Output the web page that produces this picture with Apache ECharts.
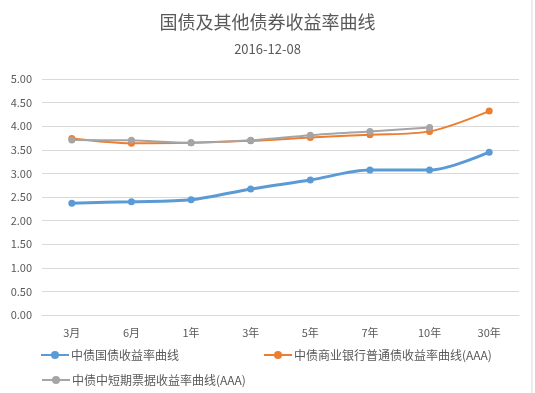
<!DOCTYPE html>
<html><head><meta charset="utf-8">
<script src="https://cdn.jsdelivr.net/npm/echarts@6/dist/echarts.min.js"></script>
<style>html,body{margin:0;padding:0;background:#fff}#c{width:535px;height:393px}</style>
</head><body><div id="c"></div>
<script>
const categories = ['3月','6月','1年','3年','5年','7年','10年','30年'];
const govValues = [2.37, 2.40, 2.44, 2.67, 2.86, 3.07, 3.07, 3.45];
const bankValues = [3.74, 3.64, 3.65, 3.69, 3.76, 3.82, 3.89, 4.32];
const noteValues = [3.71, 3.70, 3.65, 3.70, 3.81, 3.89, 3.97, null];
const seriesNames = ['中债国债收益率曲线','中债商业银行普通债收益率曲线(AAA)','中债中短期票据收益率曲线(AAA)'];
const yTicks = {min: 0, max: 5, interval: 0.5};

const font = 'Microsoft YaHei, "Noto Sans CJK SC", sans-serif';
const colors = ['#5B9BD5','#ED7D31','#A5A5A5'];
const chart = echarts.init(document.getElementById('c'));
function legend(name, left, top){
  return {data:[name], left:left, top:top, padding:0, itemWidth:28, itemHeight:10, itemGap:0,
    textStyle:{color:'#595959', fontSize:12, fontFamily:font, padding:[0,0,0,-3]}};
}
chart.setOption({
  animation:false,
  color: colors,
  title:{text:'国债及其他债券收益率曲线', subtext:'2016-12-08', left:'center', top:8,
    textStyle:{color:'#595959', fontSize:18, fontWeight:'normal', fontFamily:font},
    subtextStyle:{color:'#595959', fontSize:13, fontFamily:font}, itemGap:12},
  legend:[legend(seriesNames[0],40,349), legend(seriesNames[1],263,349), legend(seriesNames[2],41,374)],
  grid:{left:42, right:16, top:79, bottom:78},
  xAxis:{type:'category', data:categories, boundaryGap:true,
    axisLine:{lineStyle:{color:'#D9D9D9'}}, axisTick:{show:false},
    axisLabel:{color:'#595959', fontSize:11, fontFamily:font, margin:12}},
  yAxis:{type:'value', min:yTicks.min, max:yTicks.max, interval:yTicks.interval,
    axisLine:{show:false}, axisTick:{show:false},
    splitLine:{lineStyle:{color:'#D9D9D9'}},
    axisLabel:{color:'#595959', fontSize:11, fontFamily:font, margin:10,
      formatter:v=>v.toFixed(2)}},
  series:[
    {name:seriesNames[0], type:'line', data:govValues, smooth:0.3, symbol:'circle', symbolSize:7,
      lineStyle:{width:3}, z:3},
    {name:seriesNames[1], type:'line', data:bankValues, smooth:0.3, symbol:'circle', symbolSize:7,
      lineStyle:{width:2}, z:2},
    {name:seriesNames[2], type:'line', data:noteValues, smooth:0.3, symbol:'circle', symbolSize:7,
      lineStyle:{width:2}, z:4}
  ],
  graphic:[{type:'line', shape:{x1:532,y1:0,x2:532,y2:393}, style:{stroke:'#D9D9D9', lineWidth:1}}]
});
</script></body></html>
